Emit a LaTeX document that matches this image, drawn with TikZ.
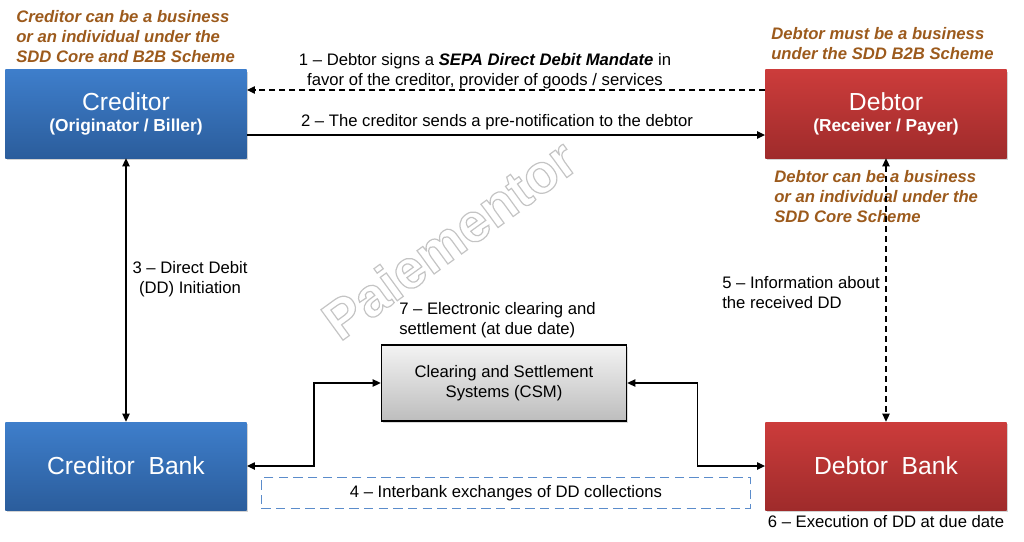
\documentclass[tikz,border=0pt]{standalone}
\usepackage{fontspec}
\setmainfont{Liberation Sans}
\usetikzlibrary{arrows.meta,shadows,calc}
\definecolor{notec}{HTML}{9C5A1C}
\definecolor{bluetop}{HTML}{3E7ECB}
\definecolor{bluebot}{HTML}{2B5D9C}
\definecolor{redtop}{HTML}{CC3C3B}
\definecolor{redbot}{HTML}{9F2B2B}
\definecolor{graytop}{HTML}{F3F3F3}
\definecolor{graybot}{HTML}{BDBDBD}
\definecolor{dashblue}{HTML}{5B8CCB}
\definecolor{wm}{HTML}{C4C4C4}
\tikzset{
  party/.style={rectangle, minimum width=181pt, minimum height=66pt, text=white, align=center,
    drop shadow={opacity=0.35, shadow xshift=1pt, shadow yshift=-1.5pt}},
  bluebox/.style={party, top color=bluetop, bottom color=bluebot},
  redbox/.style={party, top color=redtop, bottom color=redbot},
  csmbox/.style={rectangle, draw=black, line width=0.9pt, minimum width=184pt, minimum height=57pt,
    top color=graytop, bottom color=graybot, align=center, font=\fontsize{12.5}{15}\selectfont,
    drop shadow={opacity=0.3, shadow xshift=1pt, shadow yshift=-1.5pt}},
  note/.style={text=notec, font=\fontsize{12.5}{15}\selectfont\bfseries\itshape, align=left, inner sep=0pt, anchor=west},
  lbl/.style={font=\fontsize{12.5}{15}\selectfont, inner sep=0pt, align=center},
  tip/.style={-{Triangle[length=6pt,width=5.5pt]}},
  biarrow/.style={{Triangle[length=6pt,width=5.5pt]}-{Triangle[length=6pt,width=5.5pt]}},
  conn/.style={line width=0.9pt, black},
  dashconn/.style={conn, dash pattern=on 4.5pt off 3pt},
}
\begin{document}
\begin{tikzpicture}[x=0.75pt,y=-0.75pt]
\useasboundingbox (0,0) rectangle (1024,542);
% watermark (outlined text)
\node[text=wm, font=\fontsize{41}{41}\selectfont\bfseries, rotate=36] (wmark) at (449,239)
  {\special{pdf:code 1 Tr 0.9 w}Paiementor\special{pdf:code 0 Tr}};
% boxes
\node[bluebox] (cred) at (126,114) {{\fontsize{18.5}{22}\selectfont Creditor}\\[4pt]{\fontsize{13}{16}\selectfont\bfseries (Originator / Biller)}};
\node[redbox] (debt) at (886,114) {{\fontsize{18.5}{22}\selectfont Debtor}\\[4pt]{\fontsize{13}{16}\selectfont\bfseries (Receiver / Payer)}};
\node[bluebox, font=\fontsize{18.5}{22}\selectfont] (cbank) at (126,466) {Creditor\ \ Bank};
\node[redbox, font=\fontsize{18.5}{22}\selectfont] (dbank) at (886,466) {Debtor\ \ Bank};
\node[csmbox] (csm) at (504,383) {Clearing and Settlement\\Systems (CSM)};
\node[draw=dashblue, line width=0.9pt, dash pattern=on 7pt off 4pt, minimum width=367pt, minimum height=23pt, lbl] (inter) at (506,493) {4 -- Interbank exchanges of DD collections};
% notes
\node[note] (ncred) at (16,37) {Creditor can be a business\\or an individual under the\\SDD Core and B2B Scheme};
\node[note] (ndebt1) at (771,44) {Debtor must be a business\\under the SDD B2B Scheme};
\node[note] (ndebt2) at (774,197) {Debtor can be a business\\or an individual under the\\SDD Core Scheme};
% connectors
\draw[dashconn, tip] ($(debt.west)+(0,-24)$) -- ($(cred.east)+(0,-24)$);
\draw[conn, tip] ($(cred.east)+(0,21)$) -- ($(debt.west)+(0,21)$);
\draw[conn, biarrow] (cred.south) -- (cbank.north);
\draw[dashconn, biarrow] (debt.south) -- (dbank.north);
\draw[conn, biarrow] (cbank.east) -- ++(67,0) |- (csm.west);
\draw[conn, biarrow] (csm.east) -- ++(70,0) |- (dbank.west);
% labels
\node[lbl] (l1) at (485,71) {1 -- Debtor signs a \textbf{\textit{SEPA Direct Debit Mandate}} in\\favor of the creditor, provider of goods / services};
\node[lbl] (l2) at (497,122) {2 -- The creditor sends a pre-notification to the debtor};
\node[lbl] (l3) at (190,279) {3 -- Direct Debit\\(DD) Initiation};
\node[lbl, align=left, anchor=west] (l5) at (722,293) {5 -- Information about\\the received DD};
\node[lbl, align=left, anchor=west] (l7) at (399,320) {7 -- Electronic clearing and\\settlement (at due date)};
\node[lbl] (l6) at (886,522) {6 -- Execution of DD at due date};
\end{tikzpicture}
\end{document}
